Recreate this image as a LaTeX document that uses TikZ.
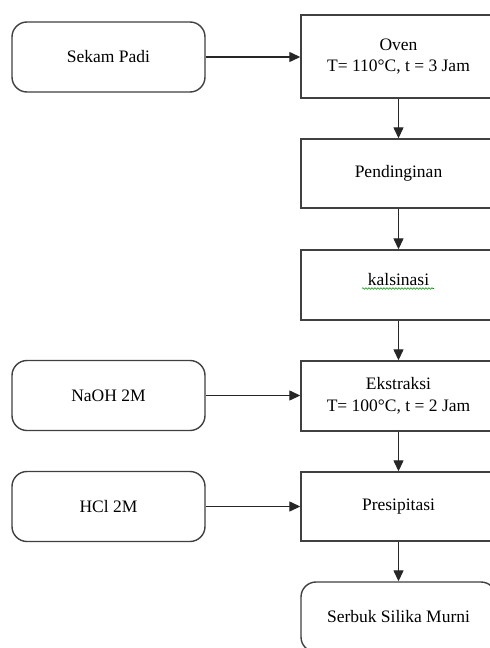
\documentclass[tikz,border=0pt]{standalone}
\usepackage{fontspec}
\setmainfont{Liberation Serif}
\usetikzlibrary{arrows.meta,decorations.pathmorphing}
\begin{document}
\begin{tikzpicture}[x=1pt,y=-1pt,
  every node/.style={font=\fontsize{17.5}{21.5}\selectfont, align=center, inner sep=0pt},
  inbox/.style={draw=black!75, line width=1.4pt, rounded corners=15pt, minimum width=193pt, minimum height=70pt},
  procbox/.style={draw=black!75, line width=1.4pt, minimum width=195pt},
  flow/.style={draw=black!85, line width=1.3pt, -{Triangle[length=11pt,width=10pt]}}]
\clip (0,0) rectangle (490,648);
\fill[white] (0,0) rectangle (490,648);
% left input boxes
\node[inbox] (sekam) at (108.5,57) {Sekam Padi};
\node[inbox] (naoh) at (108.5,395.5) {NaOH 2M};
\node[inbox] (hcl) at (108.5,506.5) {HCl 2M};
% right process boxes
\node[procbox, minimum height=83pt] (oven) at (398.5,56.5) {Oven\\T= 110°C, t = 3 Jam};
\node[procbox, minimum height=69pt] (dingin) at (398.5,173.5) {Pendinginan};
\node[procbox, minimum height=70pt] (kals) at (398.5,285) {\raisebox{12pt}{kalsinasi}};
\node[procbox, minimum height=70pt] (ekstr) at (398.5,396) {Ekstraksi\\T= 100°C, t = 2 Jam};
\node[procbox, minimum height=69pt] (presi) at (398.5,506.5) {Presipitasi};
\node[inbox, minimum width=195pt] (serbuk) at (398.5,617) {Serbuk Silika Murni};
% spell-check underline
\coordinate (sqa) at (362,288.5);
\coordinate (sqb) at (434,288.5);
\draw[green!60!black, line width=0.6pt, decorate, decoration={snake, amplitude=0.8pt, segment length=3pt}] (sqa) -- (sqb);
% connectors
\draw[flow] (sekam.east) -- (sekam.east -| oven.west);
\draw[flow] (naoh.east) -- (naoh.east -| ekstr.west);
\draw[flow] (hcl.east) -- (hcl.east -| presi.west);
\draw[flow] (oven.south) -- (dingin.north);
\draw[flow] (dingin.south) -- (kals.north);
\draw[flow] (kals.south) -- (ekstr.north);
\draw[flow] (ekstr.south) -- (presi.north);
\draw[flow] (presi.south) -- (serbuk.north);
\end{tikzpicture}
\end{document}
